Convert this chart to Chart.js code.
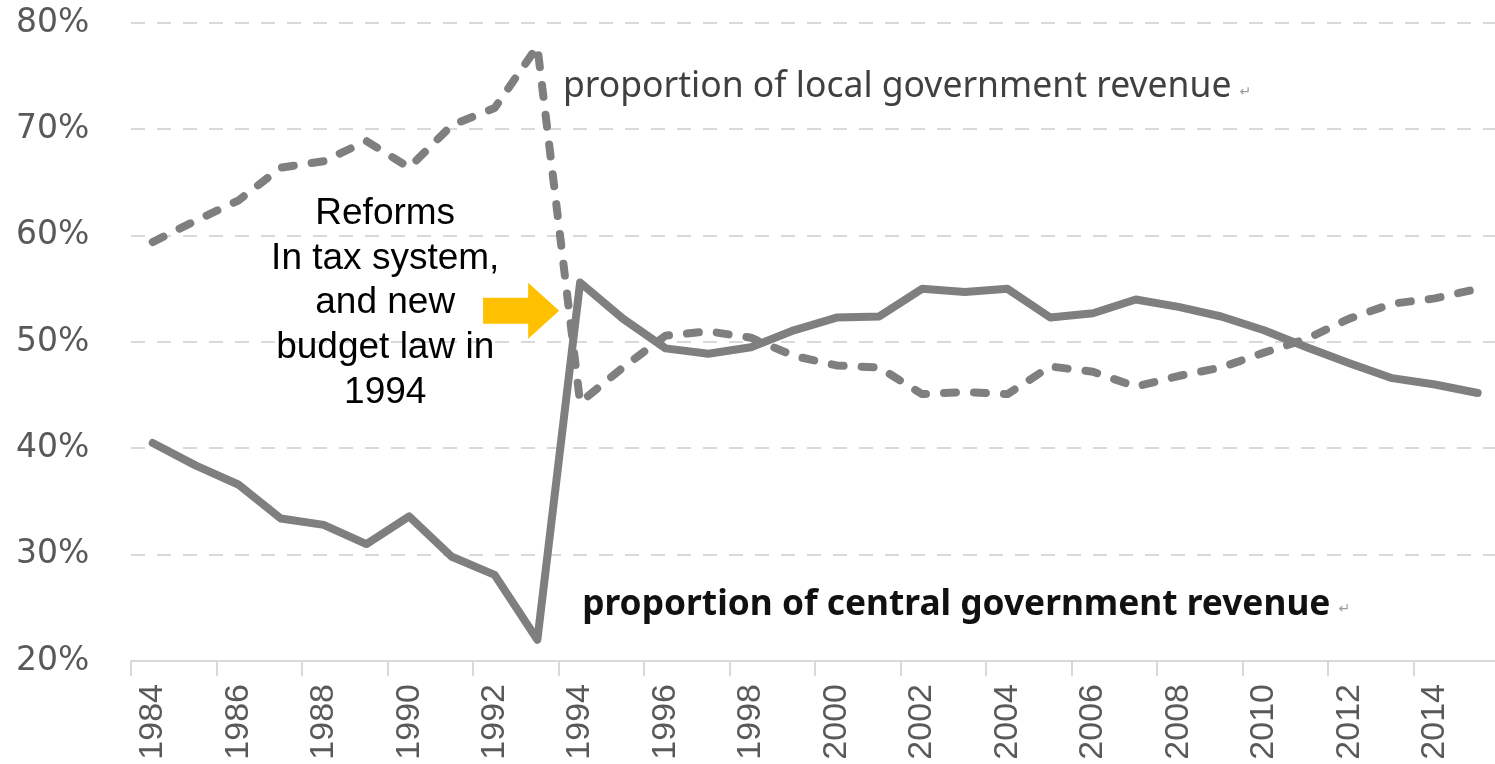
<!DOCTYPE html>
<html>
<head>
<meta charset="utf-8">
<script src="https://cdn.jsdelivr.net/npm/chart.js@4"></script>
<style>
  html, body { margin: 0; padding: 0; background: #fff; overflow: hidden; }
  #wrap { width: 1495px; height: 764px; overflow: hidden; }
</style>
</head>
<body>
<div id="wrap"><canvas id="revChart" width="1500" height="764"></canvas></div>
<script>
// years on the category axis
const years = [];
for (let y = 1984; y <= 2015; y++) years.push(String(y));

// share of central government in total revenue (%)
const centralShare = [40.5, 38.4, 36.6, 33.4, 32.8, 31.0, 33.6, 29.8, 28.1, 22.0,
  55.6, 52.2, 49.4, 48.9, 49.5, 51.1, 52.3, 52.4, 55.0, 54.7,
  55.0, 52.3, 52.7, 54.0, 53.3, 52.4, 51.1, 49.5, 48.0, 46.6, 46.0, 45.2];

// share of local government in total revenue (%)
const localShare = [59.4, 61.4, 63.3, 66.4, 67.0, 68.9, 66.4, 70.4, 72.0, 77.8,
  44.3, 47.6, 50.6, 51.0, 50.4, 48.7, 47.8, 47.6, 45.1, 45.3,
  45.1, 47.7, 47.2, 45.8, 46.8, 47.6, 49.0, 50.3, 52.2, 53.6, 54.1, 55.0];

const yTicks = [20, 30, 40, 50, 60, 70, 80];

const lineGray = '#7f7f7f';
const axisGray = '#d9d9d9';
const labelGray = '#595959';

// text and the arrow drawn on top of the lines
const notesPlugin = {
  id: 'notes',
  afterDatasetsDraw(chart) {
    const ctx = chart.ctx;
    const x = chart.scales.x, y = chart.scales.y;
    ctx.save();

    // local revenue label
    ctx.textBaseline = 'middle';
    ctx.textAlign = 'left';
    ctx.fillStyle = '#404040';
    ctx.font = '35.5px "Noto Sans"';
    let lx = x.getPixelForValue(9.6), ly = y.getPixelForValue(73.95);
    ctx.fillText('proportion of local government revenue', lx, ly);
    let w = ctx.measureText('proportion of local government revenue').width;
    ctx.fillStyle = '#9a9a9a';
    ctx.font = '14px "DejaVu Sans"';
    ctx.fillText('↵', lx + w + 8, ly + 5);

    // central revenue label
    ctx.fillStyle = '#111';
    ctx.font = 'bold 35.3px "Noto Sans"';
    let cx = x.getPixelForValue(10.05), cy = y.getPixelForValue(25.26);
    ctx.fillText('proportion of central government revenue', cx, cy);
    w = ctx.measureText('proportion of central government revenue').width;
    ctx.fillStyle = '#9a9a9a';
    ctx.font = '14px "DejaVu Sans"';
    ctx.fillText('↵', cx + w + 8, cy + 4);

    // reform note
    const lines = ['Reforms', 'In tax system,', 'and new', 'budget law in', '1994'];
    ctx.fillStyle = '#000';
    ctx.textAlign = 'center';
    ctx.font = '37px "Liberation Sans"';
    const rx = x.getPixelForValue(5.44);
    const ry = y.getPixelForValue(62.08);
    lines.forEach((t, i) => ctx.fillText(t, rx, ry + i * 44.8));

    // yellow arrow pointing at 1994
    const tail = x.getPixelForValue(7.73), tip = x.getPixelForValue(9.51);
    const ay = y.getPixelForValue(52.95);
    const headLen = 31, shaftH = 13, headH = 28;
    ctx.fillStyle = '#ffc000';
    ctx.beginPath();
    ctx.moveTo(tail, ay - shaftH);
    ctx.lineTo(tip - headLen, ay - shaftH);
    ctx.lineTo(tip - headLen, ay - headH);
    ctx.lineTo(tip, ay);
    ctx.lineTo(tip - headLen, ay + headH);
    ctx.lineTo(tip - headLen, ay + shaftH);
    ctx.lineTo(tail, ay + shaftH);
    ctx.closePath();
    ctx.fill();

    ctx.restore();
  }
};

const config = {
  type: 'line',
  data: {
    labels: years,
    datasets: [
      {
        label: 'central',
        data: centralShare,
        borderColor: lineGray,
        borderWidth: 8,
        borderCapStyle: 'round',
        borderJoinStyle: 'round',
        pointRadius: 0,
        fill: false,
        tension: 0
      },
      {
        label: 'local',
        data: localShare,
        borderColor: lineGray,
        borderWidth: 8,
        borderDash: [12, 18],
        borderCapStyle: 'round',
        borderJoinStyle: 'round',
        pointRadius: 0,
        fill: false,
        tension: 0
      }
    ]
  },
  options: {
    responsive: false,
    animation: false,
    devicePixelRatio: 1,
    layout: { padding: { top: 23, left: 16, right: 1, bottom: 0 } },
    plugins: {
      legend: { display: false },
      tooltip: { enabled: false }
    },
    scales: {
      x: {
        type: 'category',
        offset: true,
        afterFit: axis => {
          axis.paddingLeft = 0;
          axis.paddingRight = 0;
          axis.height = 103;
        },
        grid: {
          offset: true,
          drawOnChartArea: false,
          drawTicks: true,
          tickLength: 15,
          lineWidth: 2,
          color: c => (c.index % 2 === 0 ? axisGray : 'rgba(0,0,0,0)'),
          tickColor: c => (c.index % 2 === 0 ? axisGray : 'rgba(0,0,0,0)')
        },
        border: { display: true, color: axisGray, width: 2 },
        ticks: {
          autoSkip: false,
          minRotation: 90,
          maxRotation: 90,
          padding: 8,
          color: labelGray,
          font: { family: '"Liberation Sans"', size: 34 },
          callback: (v, i) => (i % 2 === 0 ? years[i] : '')
        }
      },
      y: {
        min: 20,
        max: 80,
        afterBuildTicks: axis => { axis.ticks = yTicks.map(v => ({ value: v })); },
        afterFit: axis => {
          // fit() counts the tick padding twice; keep it once
          axis.width -= axis.options.ticks.padding;
          axis.paddingTop = 0;
          axis.paddingBottom = 0;
        },
        grid: {
          drawTicks: false,
          color: axisGray,
          lineWidth: 2
        },
        border: { display: false, dash: [14, 12] },
        ticks: {
          padding: 42,
          color: labelGray,
          font: { family: '"DejaVu Sans"', size: 33 },
          callback: v => v + '%'
        }
      }
    }
  },
  plugins: [notesPlugin]
};

const revChart = new Chart(document.getElementById('revChart'), config);
</script>
</body>
</html>
